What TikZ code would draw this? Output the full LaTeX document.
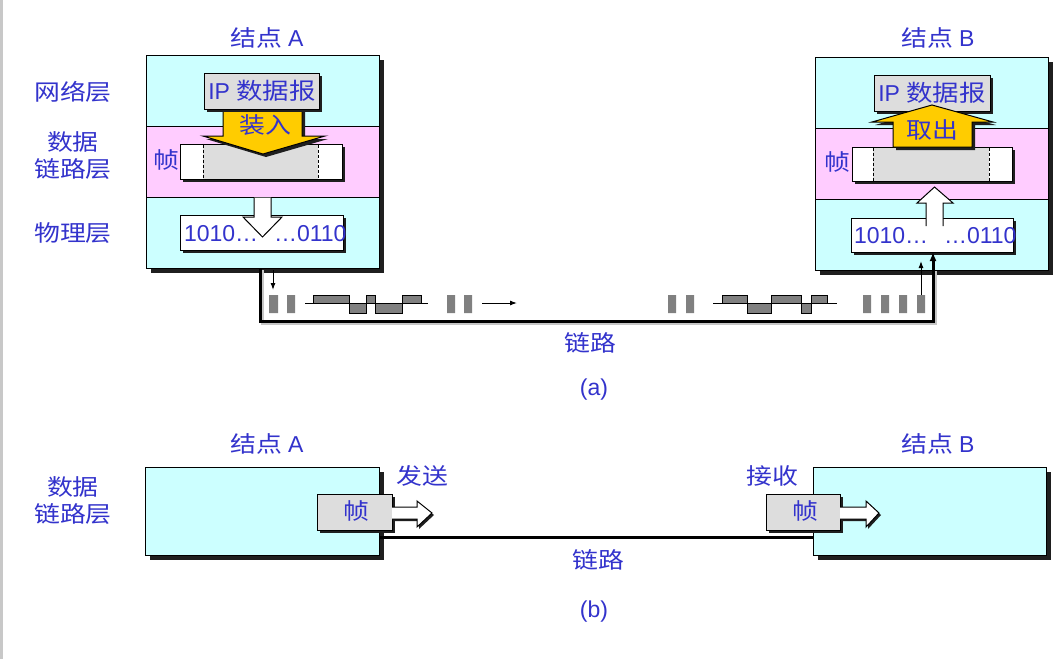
\documentclass[tikz,border=0pt]{standalone}
\usepackage{fontspec}
\setmainfont{Liberation Sans}
\newfontfamily\cjk[FakeStretch=1.15]{Noto Sans CJK SC}
\usetikzlibrary{shadows,arrows.meta}

\definecolor{nodecyan}{HTML}{CCFFFF}
\definecolor{bandpink}{HTML}{FFCCFF}
\definecolor{arrowgold}{HTML}{FFCC00}
\definecolor{boxgray}{HTML}{DDDDDD}
\definecolor{pulsegray}{HTML}{808080}
\definecolor{textblue}{HTML}{3333CC}
\definecolor{edgegray}{HTML}{C8C8C8}

\begin{document}
\begin{tikzpicture}[x=1pt,y=-1pt,
  every node/.style={inner sep=0pt, outer sep=0pt},
  cjklbl/.style={text=textblue, font=\cjk\fontsize{22.5}{27}\selectfont, align=center},
  latlbl/.style={text=textblue, font=\fontsize{23}{26}\selectfont},
  bigshadow/.style={drop shadow={shadow xshift=4.5pt, shadow yshift=-4.5pt, fill=black!88, opacity=1}},
  smallshadow/.style={drop shadow={shadow xshift=3pt, shadow yshift=-3pt, fill=black!88, opacity=1}},
  tinyshadow/.style={drop shadow={shadow xshift=2pt, shadow yshift=-2pt, fill=black!88, opacity=1}},
  station/.style={draw, line width=1pt, fill=nodecyan, bigshadow},
  layerband/.style={draw, line width=1pt, fill=bandpink},
  graybox/.style={draw, line width=1pt, fill=boxgray, smallshadow},
  whitebox/.style={draw, line width=1pt, fill=white, smallshadow},
  goldarrow/.style={draw, line width=1pt, fill=arrowgold, smallshadow},
  hollowarrow/.style={draw, line width=1pt, fill=white},
  linkline/.style={line width=3pt},
  pulse/.style={fill=pulsegray},
  wave/.style={fill=pulsegray, draw, line width=0.6pt},
  thinarrow/.style={line width=1pt, -{Latex[length=7pt,width=5pt]}},
]
\useasboundingbox (0,0) rectangle (1054,659);
\fill[white] (0,0) rectangle (1054,659);
\fill[edgegray] (0,0) rectangle (3,659);

% ---------- (a) three layers in both stations ----------
\node[station, minimum width=233pt, minimum height=213pt] (stA) at (262.5,161.5) {};
\node[layerband, minimum width=233pt, minimum height=71pt] (dlA) at (262.5,161.5) {};
\node[station, minimum width=233pt, minimum height=213pt] (stB) at (931.5,163.5) {};
\node[layerband, minimum width=233pt, minimum height=71pt] (dlB) at (931.5,163.5) {};

% layer names on the left
\node[cjklbl] (netL) at (73,92) {网络层};
\node[cjklbl] (dlL) at (73,156) {数据\\链路层};
\node[cjklbl] (phyL) at (73,233) {物理层};

% station titles
\node[cjklbl] (tA) at (267,38) {结点 {\rmfamily\fontsize{23}{26}\selectfont A}};
\node[cjklbl] (tB) at (938,38) {结点 {\rmfamily\fontsize{23}{26}\selectfont B}};

% --- station A ---
\node[whitebox, minimum width=162pt, minimum height=35pt] (frA) at (261,161.5) {};
\fill[boxgray] (203,144.5) rectangle (318,178.5);
\draw[line width=0.8pt, dash pattern=on 3pt off 2pt] (203,144.5) -- (203,178.5) (318,144.5) -- (318,178.5);
\node[cjklbl, anchor=center] (fA) at (166,160) {帧};

\path[goldarrow] (223,105) -- (223,136) -- (203,136) -- (263,154) -- (325,136) -- (302,136) -- (302,105) -- cycle;
\node[graybox, minimum width=115pt, minimum height=36pt] (ipA) at (261.5,91) {};
\node[latlbl] (ipAt) at (262,91) {IP {\cjk 数据报}};
\node[cjklbl] (inA) at (265,125) {装入};

\node[whitebox, minimum width=163pt, minimum height=35pt] (bitA) at (261.5,232.5) {};
\node[latlbl, anchor=west] (bA1) at (184,234) {1010…};
\node[latlbl, anchor=west] (bA2) at (274,234) {…0110};
\path[hollowarrow] (254,197.5) -- (254,217) -- (243,217) -- (262.5,237) -- (282,217) -- (271,217) -- (271,197.5);

% --- station B ---
\node[whitebox, minimum width=160pt, minimum height=34pt] (frB) at (932,164) {};
\fill[boxgray] (873,147.5) rectangle (989,180.5);
\draw[line width=0.8pt, dash pattern=on 3pt off 2pt] (873,147.5) -- (873,180.5) (989,147.5) -- (989,180.5);
\node[cjklbl] (fB) at (837,162) {帧};

\node[graybox, minimum width=116pt, minimum height=36pt] (ipB) at (932,93) {};
\node[latlbl] (ipBt) at (932,93) {IP {\cjk 数据报}};
\path[goldarrow] (932,105) -- (993,122) -- (972,122) -- (972,147) -- (893,147) -- (893,122) -- (872,122) -- cycle;
\node[cjklbl] (outB) at (932,130) {取出};

\node[whitebox, minimum width=162pt, minimum height=34pt] (bitB) at (932,235) {};
\node[latlbl, anchor=west] (bB1) at (854,236) {1010…};
\node[latlbl, anchor=west] (bB2) at (944,236) {…0110};
\path[hollowarrow] (926,226) -- (926,203) -- (917,203) -- (934.5,187) -- (953,203) -- (943,203) -- (943,226);

% --- the link between the stations ---
\coordinate (lA) at (stA.south -| 260,0);
\coordinate (lA2) at (260,321);
\coordinate (lB2) at (933,321);
\coordinate (lB) at (bitB.south -| 933,0);
\draw[linkline, gray!45] ([shift={(2,2)}]lA) -- ([shift={(2,2)}]lA2) -- ([shift={(2,2)}]lB2) -- ([shift={(2,-50)}]lB2);
\draw[linkline, -{Latex[length=9pt,width=7pt]}] (lA) -- (lA2) -- (lB2) -- (lB);
\node[cjklbl] (linkA) at (590,343) {链路};
\node[latlbl] (capA) at (594,390) {(a)};

% bits travelling on the link
\coordinate (sA) at (273,270);
\coordinate (sA2) at (273,290);
\draw[thinarrow] (sA) -- (sA2);
\fill[pulse] (269,295) rectangle (278,313) (287,295) rectangle (295,313);
\draw[line width=0.8pt] (305,303) -- (428,303);
\path[wave] (313,295) rectangle (349,303) (349,303) rectangle (366,313) (366,295) rectangle (375,303) (375,303) rectangle (402,313) (402,295) rectangle (421,303);
\fill[pulse] (447,295) rectangle (455,313) (464,295) rectangle (472,313);
\coordinate (mv1) at (482,303);
\coordinate (mv2) at (517,303);
\draw[thinarrow] (mv1) -- (mv2);

\fill[pulse] (668,295) rectangle (676,313) (686,295) rectangle (694,313);
\draw[line width=0.8pt] (713,303) -- (837,303);
\path[wave] (722,295) rectangle (747,303) (747,303) rectangle (771,313) (771,295) rectangle (801,303) (801,303) rectangle (811,313) (811,295) rectangle (827,303);
\fill[pulse] (863,295) rectangle (871,313) (881,295) rectangle (889,313) (899,295) rectangle (907,313) (917,295) rectangle (925,313);
\coordinate (rB) at (921,295);
\coordinate (rB2) at (921,261);
\draw[thinarrow] (rB) -- (rB2);

% ---------- (b) data link layer only ----------
\node[cjklbl] (dlL2) at (73,501) {数据\\链路层};
\node[cjklbl] (tA2) at (267,444) {结点 {\rmfamily\fontsize{23}{26}\selectfont A}};
\node[cjklbl] (tB2) at (938,444) {结点 {\rmfamily\fontsize{23}{26}\selectfont B}};

\node[station, minimum width=234pt, minimum height=88pt] (sbA) at (262,511) {};
\node[station, minimum width=233pt, minimum height=88pt] (sbB) at (929.5,511) {};
\draw[linkline] (sbA.east |- 0,537) -- (sbB.west |- 0,537);
\node[cjklbl] (linkB) at (598,560) {链路};
\node[latlbl] (capB) at (594,612) {(b)};

\node[graybox, minimum width=75pt, minimum height=36pt] (fbA) at (354.5,512) {};
\node[cjklbl] (fbAt) at (356,511) {帧};
\path[hollowarrow, tinyshadow] (fbA.east |- 0,507) -- (417,507) -- (417,501) -- (432,513) -- (417,527) -- (417,519) -- (fbA.east |- 0,519);
\node[cjklbl] (send) at (422,476) {发送};

\node[graybox, minimum width=74pt, minimum height=36pt] (fbB) at (803,512) {};
\node[cjklbl] (fbBt) at (805,511) {帧};
\path[hollowarrow, tinyshadow] (fbB.east |- 0,507) -- (866,507) -- (866,501) -- (879,513) -- (866,527) -- (866,519) -- (fbB.east |- 0,519);
\node[cjklbl] (recv) at (772,476) {接收};
\end{tikzpicture}
\end{document}
